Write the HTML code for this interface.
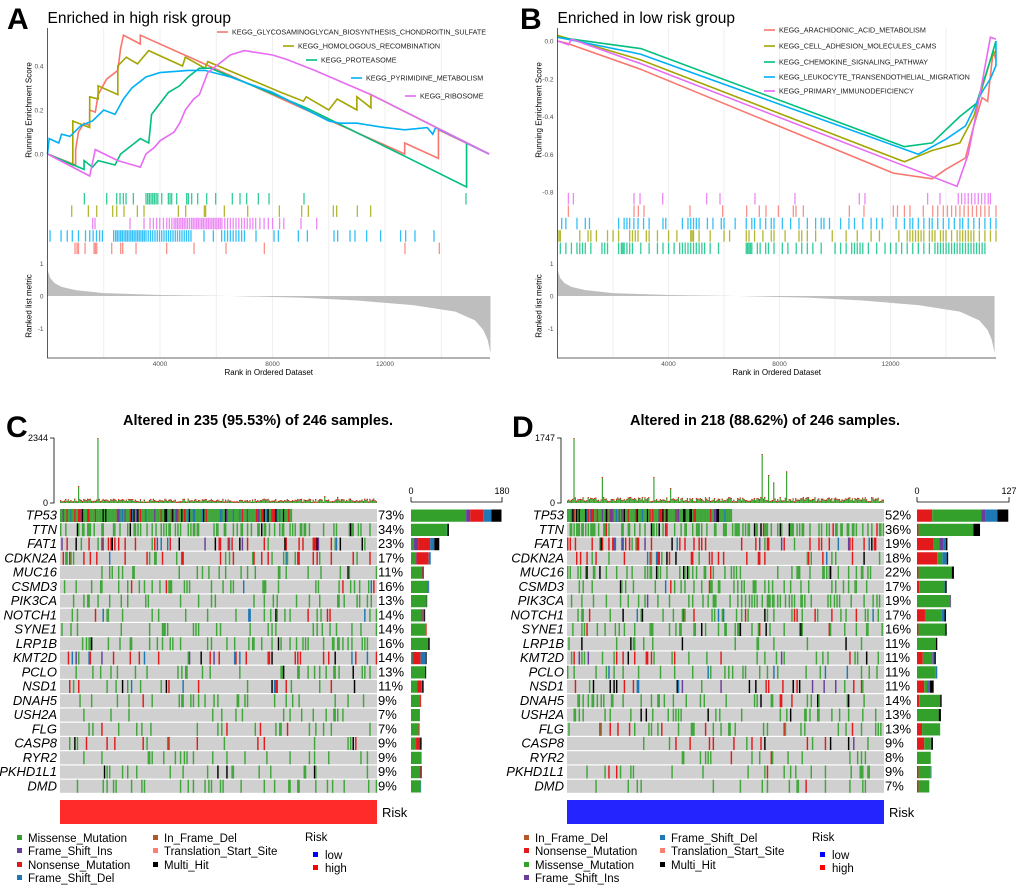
<!DOCTYPE html>
<html><head><meta charset="utf-8">
<style>
html,body{margin:0;padding:0;background:#fff;}
svg{display:block;font-family:"Liberation Sans",sans-serif;}
</style></head>
<body>
<svg id="fig" width="1020" height="889" viewBox="0 0 1020 889" xmlns="http://www.w3.org/2000/svg">
<rect width="1020" height="889" fill="#fff"/>
<g id="gA"></g>
<g id="gB"></g>
<g id="gC"></g>
<g id="gD"></g>
</svg>
<script>
// ---------- GSEA data ----------
const pathwayColors = ["#F8766D","#A3A500","#00BF7D","#00B0F6","#E76BF3"];
const namesA = ["KEGG_GLYCOSAMINOGLYCAN_BIOSYNTHESIS_CHONDROITIN_SULFATE","KEGG_HOMOLOGOUS_RECOMBINATION","KEGG_PROTEASOME","KEGG_PYRIMIDINE_METABOLISM","KEGG_RIBOSOME"];
const namesB = ["KEGG_ARACHIDONIC_ACID_METABOLISM","KEGG_CELL_ADHESION_MOLECULES_CAMS","KEGG_CHEMOKINE_SIGNALING_PATHWAY","KEGG_LEUKOCYTE_TRANSENDOTHELIAL_MIGRATION","KEGG_PRIMARY_IMMUNODEFICIENCY"];
const esA_red = [[0,0],[1000,-0.05],[1000,0.02],[1100,0.1],[1300,0.14],[1500,0.13],[1500,0.2],[1700,0.19],[1800,0.27],[2100,0.34],[2500,0.38],[2600,0.48],[2700,0.54],[3300,0.5],[3300,0.54],[5400,0.42],[9200,0.2],[12700,0],[12700,0.05],[13900,-0.02],[13900,0.11],[15700,0]];
const esA_olive = [[0,0],[900,-0.05],[900,0.15],[1500,0.12],[1500,0.26],[1800,0.25],[1800,0.31],[2500,0.27],[2500,0.4],[2800,0.44],[3200,0.41],[3600,0.47],[4800,0.4],[4900,0.44],[5600,0.39],[5700,0.42],[8300,0.28],[9100,0.24],[9200,0.26],[10000,0.2],[10300,0.25],[11000,0.2],[11000,0.26],[11500,0.21],[11500,0.27],[15700,0]];
const esA_green = [[0,0],[1300,-0.07],[1300,-0.03],[1600,-0.06],[1800,-0.03],[2400,-0.05],[2600,0.0],[3000,0.04],[3300,0.07],[3600,0.05],[3700,0.18],[4000,0.23],[4300,0.28],[4700,0.31],[5000,0.35],[5400,0.39],[5800,0.39],[9200,0.21],[12700,-0.01],[14900,-0.15],[14900,0.05],[15700,0]];
const esA_blue = [[0,0],[60,0.07],[400,0.05],[500,0.09],[800,0.08],[1200,0.13],[1600,0.15],[2000,0.2],[2400,0.18],[2700,0.25],[3000,0.3],[3500,0.35],[4000,0.37],[5000,0.38],[5600,0.38],[6500,0.35],[8000,0.28],[10000,0.15],[10400,0.14],[11000,0.14],[12000,0.12],[12700,0.11],[13500,0.12],[13700,0.09],[13800,0.12],[15700,0]];
const esA_magenta = [[0,0],[1500,-0.1],[1700,0.02],[2500,-0.03],[3300,-0.06],[3500,0.0],[3800,0.03],[4000,0.06],[4500,0.1],[4700,0.14],[4900,0.2],[5200,0.25],[5400,0.27],[5700,0.37],[6100,0.41],[6500,0.45],[7000,0.47],[8000,0.45],[8500,0.43],[9500,0.38],[11500,0.27],[15700,0]];
const esB_red = [[0,0],[300,-0.01],[3000,-0.15],[12100,-0.7],[13500,-0.73],[14000,-0.68],[14700,-0.62],[15000,-0.45],[15300,-0.3],[15500,-0.32],[15700,-0.05],[15800,-0.1]];
const esB_olive = [[0,0.03],[3000,-0.1],[12500,-0.64],[13500,-0.58],[14500,-0.54],[15000,-0.4],[15600,-0.1],[15800,-0.05]];
const esB_green = [[0,0.02],[3000,-0.04],[12500,-0.56],[13500,-0.54],[14500,-0.4],[15100,-0.33],[15600,-0.1],[15800,0]];
const esB_blue = [[0,0.02],[3000,-0.07],[13000,-0.6],[14000,-0.52],[14700,-0.45],[15300,-0.27],[15600,-0.2],[15800,-0.13],[15800,0]];
const esB_magenta = [[0,0],[400,-0.02],[500,0.01],[3000,-0.12],[14400,-0.77],[14800,-0.6],[15200,-0.3],[15600,0.02],[15800,0.01]];
const hitsA_green = [1309,2103,2459,2577,2696,2790,3051,3501,3560,3620,3680,3740,3800,3860,3920,4060,4295,4355,4414,4592,4947,5006,5125,5338,5658,5978,6570,6843,7080,7495,7874,9118,14877];
const hitsA_olive = [859,1451,1748,2316,2459,2719,3193,3430,4651,4912,5575,5622,6286,7116,8241,9035,9272,10161,10280,11014,11488];
const hitsA_magenta = [1605,1688,2933,3430,3644,3762,3880,3990,4120,4240,4330,4420,4500,4560,4620,4680,4740,4800,4860,4920,4980,5050,5120,5180,5240,5300,5360,5420,5480,5540,5600,5660,5720,5780,5840,5900,5960,6020,6080,6140,6200,6300,6400,6500,6600,6700,6800,6900,7000,7100,7200,7300,7400,7550,7700,7850,8000,8250,8400,9011,9568];
const hitsA_blue = [90,480,700,880,1100,1350,1500,1620,1740,1850,1950,2350,2420,2480,2540,2600,2660,2720,2780,2840,2900,2960,3020,3080,3140,3200,3260,3320,3380,3440,3500,3580,3660,3740,3820,3900,3980,4060,4140,4220,4300,4380,4460,4540,4620,4700,4780,4860,4940,5020,5100,5563,5895,6190,6300,6400,6500,6600,6700,6800,6900,7000,7412,8052,8206,8917,9237,10185,10315,10753,10931,11346,11843,12554,12732,13064,13740];
const hitsA_red = [977,1050,1100,1333,1653,1700,1748,2281,2601,2672,3146,4236,5208,6345,7708,12709,13930];
const hitsB_magenta = [390,570,2755,2972,3789,5374,5854,7115,8556,10874,11078,13336,13780,14440,14560,14680,14800,14920,15040,15160,15280,15400,15520,15600];
const hitsB_red = [390,2755,2912,3116,4773,5950,6815,7271,7512,7956,8496,8592,8857,10514,11042,12100,12250,12500,12700,13180,13520,13700,13900,14050,14200,14350,14500,14650,14800,14950,15100,15250,15400,15550,15800];
const hitsB_blue = [150,300,700,1000,1150,2200,2400,2500,2600,2750,2900,3100,3300,3800,3900,4500,4700,4800,4900,5000,5100,5400,5600,5900,6000,6400,6800,7000,7100,7300,7500,7700,7800,8100,8400,8700,9000,9300,9500,9600,9800,10200,10500,10700,11000,11300,11500,11700,12200,12500,12700,12800,13000,13200,13400,13500,13700,13900,14100,14300,14500,14600,14800,15000,15200,15400,15600,15800];
const hitsB_olive = [50,100,800,1100,1200,1400,1800,2000,2200,2600,2700,2800,2900,3200,3300,3600,4000,4300,4800,4850,4900,5100,5500,6000,6200,6800,6900,7100,7400,7700,7800,8200,8700,8800,9000,9300,9900,10400,10800,11300,11600,12300,12600,12700,12800,12900,13000,13100,13200,13400,13500,13600,13800,13900,14000,14200,14400,14500,14600,14700,14800,14900,15000,15200,15400,15600,15800];
const hitsB_green = [100,300,500,700,800,900,1000,1200,1600,1700,1800,2200,2300,2350,2400,2500,2600,2700,3000,3300,3600,3800,4000,4200,4400,4500,4600,4700,4800,4900,5000,5100,5200,5300,5500,5800,6800,6850,6900,6950,7000,7200,7300,7500,7600,7800,8100,8300,8600,8800,9000,9200,9500,10000,10200,10400,10600,10700,10800,10900,11000,11200,11500,11800,12000,12200,12400,12600,12800,13000,13200,13400,13600,13700,13800,13900,14000,14100,14200,14300,14400,14500,14600,14700,14800,14900,15000,15100,15200,15300,15400];
const metricRanks = [0,100,250,500,1000,2000,4000,6500,9000,11000,13000,14500,15200,15500,15650,15750];
const metricValues = [0.8,0.55,0.4,0.28,0.18,0.09,0.03,0,-0.05,-0.14,-0.28,-0.48,-0.75,-1.05,-1.35,-1.75];
const rankTicks = [4000,8000,12000];

// ---------- Oncoplot data ----------
const genes = ["TP53","TTN","FAT1","CDKN2A","MUC16","CSMD3","PIK3CA","NOTCH1","SYNE1","LRP1B","KMT2D","PCLO","NSD1","DNAH5","USH2A","FLG","CASP8","RYR2","PKHD1L1","DMD"];
const pctC = [73,34,23,17,11,16,13,14,14,16,14,13,11,9,7,7,9,9,9,9];
const pctD = [52,36,19,18,22,17,19,17,16,11,11,11,11,14,13,13,9,8,9,7];
// counts per type: [missense, nonsense, frameShiftDel, frameShiftIns, multiHit]
const barC = [[109,26,16,8,20],[71,0,1,0,3],[6,24,8,8,10],[10,24,4,1,0],[22,1,0,0,2],[32,2,2,0,0],[31,0,0,0,1],[20,3,3,0,2],[29,2,0,0,0],[34,0,0,0,3],[3,14,10,2,2],[28,0,0,0,2],[12,8,2,0,3],[18,2,0,0,0],[16,0,0,0,1],[15,2,0,0,0],[10,8,0,0,3],[21,0,0,0,0],[18,1,0,0,2],[19,0,1,0,0]];
const barD = [[68,21,16,6,15],[76,2,0,0,9],[8,23,4,5,2],[7,28,6,0,2],[45,2,1,0,3],[35,3,1,0,2],[46,0,0,1,0],[23,11,4,0,2],[37,2,0,0,2],[25,1,0,0,2],[13,8,2,1,2],[25,1,2,0,0],[4,10,2,2,5],[29,3,0,0,2],[29,1,0,0,3],[25,7,0,0,0],[9,10,0,1,2],[18,1,0,0,0],[17,2,1,0,0],[15,2,0,0,0]];
const tmbPeakIdxC = [14,29,205,215,240];
const tmbPeakValC = [610,2344,250,220,150];
const tmbPeakIdxD = [5,27,67,80,151,156,160,170];
const tmbPeakValD = [1747,700,700,400,1317,750,550,850];
const barMaxC = 180, barMaxD = 127, tmbMaxC = 2344, tmbMaxD = 1747;
const nSamples = 246;

const typeColors = ["#33A02C","#E31A1C","#1F78B4","#6A3D9A","#000000"];
const NS = "http://www.w3.org/2000/svg";
function el(parent, tag, attrs, text){
  const e = document.createElementNS(NS, tag);
  for (const k in attrs) e.setAttribute(k, attrs[k]);
  if (text !== undefined) e.textContent = text;
  parent.appendChild(e);
  return e;
}

function drawGSEA(g, opt){
  const xs = r => opt.x0 + r * opt.xk;
  const ys = v => opt.y0 - v * opt.yk;
  const ym = m => opt.m0 - m * 32.5;
  // panel letter and title
  let t = el(g,"text",{x:opt.lx,y:29,"font-size":30,"font-weight":"bold"},opt.letter);
  
  
  t = el(g,"text",{x:opt.x0,y:23,"font-size":15.5},opt.title);
  
  
  // gridlines
  for (let r=2000; r<16000; r+=2000){
    const ln = el(g,"line",{x1:xs(r),x2:xs(r),y1:28,y2:358,stroke:"#ebebeb","stroke-width":0.8});
    
    
  }
  // ranked metric area
  let d = "M"+xs(metricRanks[0])+","+ym(0);
  for (let i=0;i<metricRanks.length;i++) d += " L"+xs(metricRanks[i])+","+ym(metricValues[i]);
  d += " L"+xs(metricRanks[metricRanks.length-1])+","+ym(0)+" Z";
  const area = el(g,"path",{d:d,fill:"#bebebe",stroke:"none"});
  
  
  // hits
  opt.hits.forEach((h,i)=>{
    const row = opt.hitRows[i];
    h.forEach(r=>{
      const rc = el(g,"rect",{x:xs(r)-0.6,y:opt.hitTop+row*12.4,width:1.3,height:11.5,fill:pathwayColors[i],opacity:0.8});
      
      
    });
  });
  // ES curves
  opt.curves.forEach((c,i)=>{
    const pts = c.map(p=>xs(p[0])+","+ys(p[1])).join(" ");
    const pl = el(g,"polyline",{points:pts,fill:"none",stroke:pathwayColors[i],"stroke-width":1.6});
    
    
  });
  // axes
  const ax = el(g,"path",{d:"M"+opt.x0+",28 V358 H"+opt.xEnd,stroke:"#333",fill:"none","stroke-width":0.8});
  
  
  opt.esTicks.forEach(v=>{
    const tt = el(g,"text",{x:opt.x0-4,y:ys(v)+2.5,"font-size":6.5,fill:"#4d4d4d","text-anchor":"end"},v.toFixed(1));
    
    
  });
  [1,0,-1].forEach(v=>{
    const tt = el(g,"text",{x:opt.x0-4,y:ym(v)+2.5,"font-size":6.5,fill:"#4d4d4d","text-anchor":"end"},String(v));
    
    
  });
  rankTicks.forEach(r=>{
    const tt = el(g,"text",{x:xs(r),y:366,"font-size":6.5,fill:"#4d4d4d","text-anchor":"middle"},String(r));
    
    
  });
  t = el(g,"text",{x:(opt.x0+opt.xEnd)/2,y:375,"font-size":8,"text-anchor":"middle"},"Rank in Ordered Dataset");
  
  
  t = el(g,"text",{x:0,y:0,"font-size":8,"text-anchor":"middle",transform:"translate("+(opt.x0-16)+",110) rotate(-90)"},"Running Enrichment Score");
  
  
  t = el(g,"text",{x:0,y:0,"font-size":8,"text-anchor":"middle",transform:"translate("+(opt.x0-16)+",306) rotate(-90)"},"Ranked list metric");
  
  
  // legend
  opt.names.forEach((n,i)=>{
    const L = opt.legend[i];
    const ln = el(g,"line",{x1:L[0],x2:L[0]+11,y1:L[1],y2:L[1],stroke:pathwayColors[i],"stroke-width":1.6});
    
    
    const lt = el(g,"text",{x:L[0]+15,y:L[1]+2.5,"font-size":7.2,fill:"#222"},n);
    
    
  });
}

drawGSEA(document.getElementById("gA"),{letter:"A",lx:7,title:"Enriched in high risk group",x0:47.5,xEnd:490,xk:112.5/4000,y0:154,yk:220,m0:296,
  curves:[esA_red,esA_olive,esA_green,esA_blue,esA_magenta],
  hits:[hitsA_red,hitsA_olive,hitsA_green,hitsA_blue,hitsA_magenta],hitRows:[4,1,0,3,2],hitTop:193,
  esTicks:[0.4,0.2,0.0],names:namesA,legend:[[217,32],[283,46],[306,60],[351,78],[405,96]]});
drawGSEA(document.getElementById("gB"),{letter:"B",lx:520,title:"Enriched in low risk group",x0:557.5,xEnd:996,xk:111/4000,y0:41,yk:188.75,m0:296,
  curves:[esB_red,esB_olive,esB_green,esB_blue,esB_magenta],
  hits:[hitsB_red,hitsB_olive,hitsB_green,hitsB_blue,hitsB_magenta],hitRows:[1,3,4,2,0],hitTop:193,
  esTicks:[0.0,-0.2,-0.4,-0.6,-0.8],names:namesB,legend:[[764,30],[764,46],[764,62],[764,77],[764,91]]});

// ---------- oncoplot ----------
function hash(a,b){ let h = (a*374761393 + b*668265263) | 0; h = (h ^ (h>>>13)) * 1274126177 | 0; h = h ^ (h>>>16); return ((h>>>0) % 10000)/10000; }
function drawOnco(g, opt){
  const colW = (opt.gx1-opt.gx0)/nSamples;
  const rowH = 14.25, top = 509;
  const sx = i => opt.gx0 + i*colW;
  let t = el(g,"text",{x:opt.lx,y:437,"font-size":30,"font-weight":"bold"},opt.letter);
  
  
  t = el(g,"text",{x:opt.tcx,y:425,"font-size":14.5,"font-weight":"bold","text-anchor":"middle"},opt.title);
  
  
  // TMB bars
  const ty = v => 503 - v/opt.tmbMax*65;
  for (let i=0;i<nSamples;i++){
    let v = 40 + hash(i,opt.seed)*120;
    const k = opt.peakIdx.indexOf(i);
    if (k>=0) v = opt.peakVal[k];
    const b = el(g,"rect",{x:sx(i),y:ty(v),width:colW*0.9,height:503-ty(v),fill:"#33A02C"});
    
    
    const b2 = el(g,"rect",{x:sx(i),y:ty(v),width:colW*0.9,height:1,fill:"#E31A1C"});
    
    
  }
  const ax = el(g,"path",{d:"M"+(opt.ax-4)+",438 H"+opt.ax+" V503 H"+(opt.ax-4),stroke:"#000",fill:"none","stroke-width":0.8});
  
  
  t = el(g,"text",{x:opt.ax-6,y:441,"font-size":9,"text-anchor":"end"},String(opt.tmbMax));
  
  
  t = el(g,"text",{x:opt.ax-6,y:506,"font-size":9,"text-anchor":"end"},"0");
  
  
  // grid background
  const bg = el(g,"rect",{x:opt.gx0,y:top,width:opt.gx1-opt.gx0,height:rowH*20,fill:"#fff"});
  
  
  const bk = (opt.barMax<150)?92/opt.barMax:91/opt.barMax;
  genes.forEach((gn,r)=>{
    const y = top + r*rowH;
    const rr = el(g,"rect",{x:opt.gx0,y:y,width:opt.gx1-opt.gx0,height:rowH-1.2,fill:"#d0d0d0"});
    
    
    const counts = opt.bars[r];
    const tot = counts.reduce((a,b)=>a+b,0);
    const p = opt.pct[r]/100;
    for (let i=0;i<nSamples;i++){
      let alt;
      if (r===0) alt = i < Math.round(p*nSamples);
      else alt = hash(i+r*977, opt.seed+r) < p;
      if (!alt) continue;
      let u = hash(i*31+r, opt.seed*7+3)*tot, ty2=0;
      for (let k=0;k<5;k++){ if (u < counts[k]) { ty2=k; break; } u -= counts[k]; }
      const c = el(g,"rect",{x:sx(i),y:y,width:colW+0.15,height:rowH-1.2,fill:ty2===0?"#3FA63A":typeColors[ty2]});
      
      
    }
    const gl = el(g,"text",{x:opt.gx0-3,y:y+10.5,"font-size":13,"font-style":"italic","text-anchor":"end"},gn);
    
    
    const pl = el(g,"text",{x:opt.gx1+1,y:y+10.5,"font-size":13},opt.pct[r]+"%");
    
    
    // bar
    let bx = opt.bx0;
    const order = opt.order;
    order.forEach(k=>{
      const w = counts[k]*bk;
      if (w<=0) return;
      const br = el(g,"rect",{x:bx,y:y+0.5,width:w,height:rowH-2,fill:typeColors[k]});
      
      
      bx += w;
    });
  });
  // bar axis
  const ba = el(g,"path",{d:"M"+opt.bx0+",502 V497 M"+opt.bx0+",502 H"+(opt.bx0+opt.barMax*bk)+" V497",stroke:"#000",fill:"none","stroke-width":0.8});
  
  
  t = el(g,"text",{x:opt.bx0,y:494,"font-size":9,"text-anchor":"middle"},"0");
  
  
  t = el(g,"text",{x:opt.bx0+opt.barMax*bk,y:494,"font-size":9,"text-anchor":"middle"},String(opt.barMax));
  
  
  // risk bar
  const rb = el(g,"rect",{x:opt.gx0,y:800,width:opt.gx1-opt.gx0,height:24,fill:opt.riskColor});
  
  
  t = el(g,"text",{x:opt.gx1+5,y:817,"font-size":13},"Risk");
  
  
  // legend
  opt.legend.forEach(L=>{
    const sq = el(g,"rect",{x:L[0],y:L[1]-3,width:5,height:5,fill:L[3]});
    
    
    const lt = el(g,"text",{x:L[0]+11,y:L[1]+4,"font-size":11.5},L[2]);
    
    
  });
  t = el(g,"text",{x:opt.rx,y:841,"font-size":11.5},"Risk");
  
  
  [["low","#0000FF",855],["high","#FF0000",868]].forEach(L=>{
    const sq = el(g,"rect",{x:opt.rx+8,y:L[2]-3,width:5,height:5,fill:L[1]});
    
    
    const lt = el(g,"text",{x:opt.rx+20,y:L[2]+4,"font-size":11.5},L[0]);
    
    
  });
}
drawOnco(document.getElementById("gC"),{letter:"C",lx:6,title:"Altered in 235 (95.53%) of 246 samples.",tcx:258,gx0:60,gx1:377,ax:54,
  tmbMax:tmbMaxC,peakIdx:tmbPeakIdxC,peakVal:tmbPeakValC,seed:11,pct:pctC,bars:barC,barMax:barMaxC,bx0:411,order:[0,3,1,2,4],riskColor:"#FF2A2A",rx:305,
  legend:[[17,838,"Missense_Mutation","#33A02C"],[17,851,"Frame_Shift_Ins","#6A3D9A"],[17,865,"Nonsense_Mutation","#E31A1C"],[17,878,"Frame_Shift_Del","#1F78B4"],[153,838,"In_Frame_Del","#B15928"],[153,851,"Translation_Start_Site","#FB8072"],[153,865,"Multi_Hit","#000000"]]});
drawOnco(document.getElementById("gD"),{letter:"D",lx:512,title:"Altered in 218 (88.62%) of 246 samples.",tcx:765,gx0:567,gx1:884,ax:561,
  tmbMax:tmbMaxD,peakIdx:tmbPeakIdxD,peakVal:tmbPeakValD,seed:29,pct:pctD,bars:barD,barMax:barMaxD,bx0:917,order:[1,0,3,2,4],riskColor:"#2424FF",rx:812,
  legend:[[524,838,"In_Frame_Del","#B15928"],[524,851,"Nonsense_Mutation","#E31A1C"],[524,865,"Missense_Mutation","#33A02C"],[524,878,"Frame_Shift_Ins","#6A3D9A"],[660,838,"Frame_Shift_Del","#1F78B4"],[660,851,"Translation_Start_Site","#FB8072"],[660,865,"Multi_Hit","#000000"]]});
</script>
</body></html>
